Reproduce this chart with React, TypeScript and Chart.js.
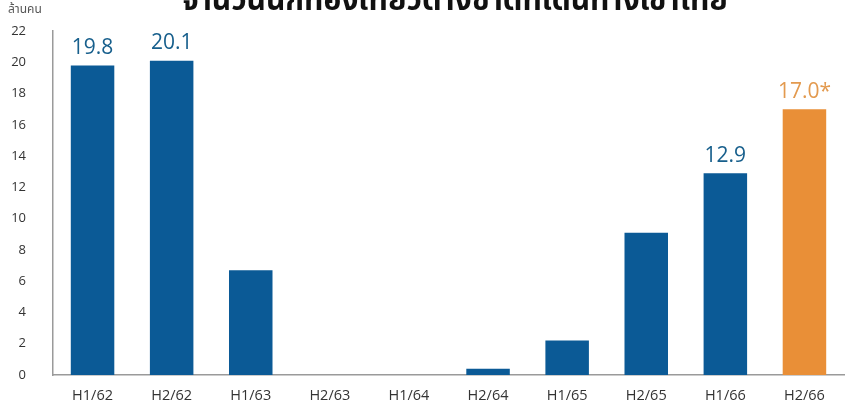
import React, { useEffect, useRef } from "react";
import { Chart, registerables } from "chart.js";

Chart.register(...registerables);

const categories = ["H1/62", "H2/62", "H1/63", "H2/63", "H1/64", "H2/64", "H1/65", "H2/65", "H1/66", "H2/66"];
const visitors = [19.8, 20.1, 6.7, 0, 0, 0.4, 2.2, 9.1, 12.9, 17.0];
const valueLabels = ["19.8", "20.1", "", "", "", "", "", "", "12.9", "17.0*"];
const barColors = ["#0b5a96", "#0b5a96", "#0b5a96", "#0b5a96", "#0b5a96", "#0b5a96", "#0b5a96", "#0b5a96", "#0b5a96", "#e98f37"];
const labelColors = ["#175f8c", "#175f8c", "#175f8c", "#175f8c", "#175f8c", "#175f8c", "#175f8c", "#175f8c", "#175f8c", "#e39a4f"];
const yTicks = [0, 2, 4, 6, 8, 10, 12, 14, 16, 18, 20, 22];
const titleText = "จำนวนนักท่องเที่ยวต่างชาติที่เดินทางเข้าไทย";
const unitText = "ล้านคน";

const overlayPlugin = {
  id: "overlay",
  afterDatasetsDraw(chart: any) {
    const ctx = chart.ctx;
    const meta = chart.getDatasetMeta(0);
    ctx.save();
    ctx.font = "500 21px 'Open Sans', sans-serif";
    ctx.textAlign = "center";
    ctx.textBaseline = "bottom";
    meta.data.forEach((bar: any, i: number) => {
      const t = valueLabels[i];
      if (!t) return;
      ctx.fillStyle = labelColors[i];
      ctx.fillText(t, bar.x, bar.y - 7);
    });
    ctx.font = "12px 'Noto Sans', 'Noto Sans Thai', sans-serif";
    ctx.fillStyle = "#555";
    ctx.textAlign = "left";
    ctx.textBaseline = "alphabetic";
    ctx.fillText(unitText, 8, 13);
    ctx.font = "bold 30px 'Noto Sans', 'Noto Sans Thai', sans-serif";
    ctx.fillStyle = "#111";
    ctx.textAlign = "center";
    ctx.fillText(titleText, 455, 10);
    ctx.restore();
  },
};

export default function App() {
  const ref = useRef<HTMLCanvasElement>(null);
  useEffect(() => {
    document.body.style.margin = "0";
    const chart = new Chart(ref.current!, {
      type: "bar",
      data: {
        labels: categories,
        datasets: [
          {
            data: visitors,
            backgroundColor: barColors,
            borderWidth: 0,
            barPercentage: 0.55,
            categoryPercentage: 1,
          },
        ],
      },
      options: {
        animation: false,
        responsive: false,
        maintainAspectRatio: false,
        layout: { padding: { top: 31, right: 2, left: 0, bottom: 0 } },
        plugins: { legend: { display: false }, tooltip: { enabled: false }, title: { display: false } },
        scales: {
          x: {
            grid: { display: false, drawTicks: false },
            border: { display: true, color: "#9a9a9a", width: 1.5 },
            ticks: { color: "#333", font: { family: "'Open Sans', sans-serif", size: 14.5 }, padding: 12 },
            afterFit: (s: any) => {
              s.height = 37;
              s.paddingLeft = 0;
              s.paddingRight = 0;
            },
          },
          y: {
            min: 0,
            max: 22,
            afterBuildTicks: (s: any) => {
              s.ticks = yTicks.map((v) => ({ value: v }));
            },
            grid: { display: false, drawTicks: false },
            border: { display: true, color: "#9a9a9a", width: 1.5 },
            ticks: { color: "#333", font: { family: "'Open Sans', sans-serif", size: 13 }, padding: 27 },
            afterFit: (s: any) => {
              s.width = 53;
              s.paddingTop = 0;
              s.paddingBottom = 0;
            },
          },
        },
      },
      plugins: [overlayPlugin],
    });
    return () => chart.destroy();
  }, []);
  return (
    <div style={{ position: "fixed", left: 0, top: 0, width: 846, height: 412, background: "#fff" }}>
      <canvas ref={ref} width={846} height={412} />
    </div>
  );
}
